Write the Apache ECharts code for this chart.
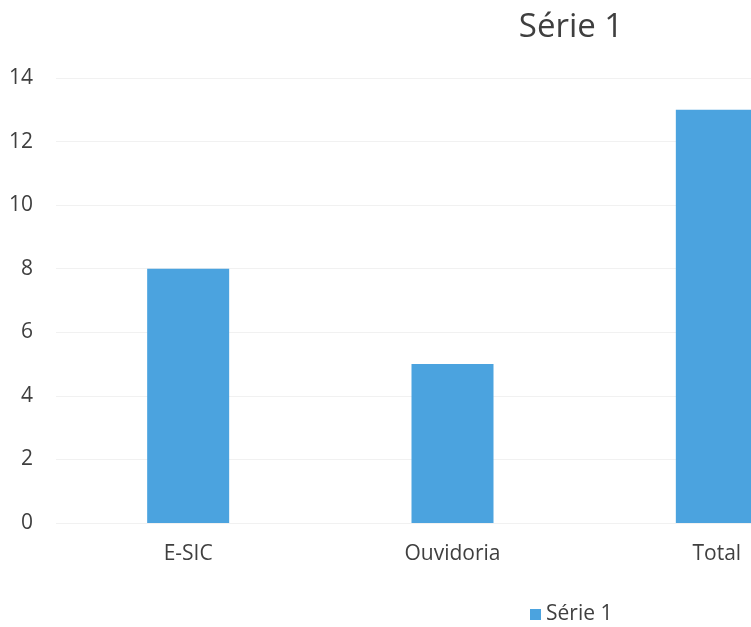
<!DOCTYPE html>
<html>
<head>
<meta charset="utf-8">
<script src="https://cdn.jsdelivr.net/npm/echarts@6/dist/echarts.min.js"></script>
<style>html,body{margin:0;padding:0;background:#fff}#c{width:751px;height:627px}</style>
</head>
<body>
<div id="c"></div>
<script>
var categories = ['E-SIC', 'Ouvidoria', 'Total'];
var seriesName = 'Série 1';
var values = [8, 5, 13];
var yTicks = [0, 2, 4, 6, 8, 10, 12, 14];

var chart = echarts.init(document.getElementById('c'));
chart.setOption({
  animation: false,
  backgroundColor: '#ffffff',
  textStyle: { fontFamily: 'Open Sans' },
  title: {
    text: seriesName,
    left: 566, top: 6, textAlign: 'center',
    textStyle: { fontSize: 33, fontWeight: 'normal', color: '#3f3f3f', fontFamily: 'Open Sans' }
  },
  legend: {
    data: [seriesName],
    left: 525, top: 599,
    icon: 'rect', itemWidth: 11, itemHeight: 11, itemGap: 4,
    textStyle: { fontSize: 21, color: '#3f3f3f', fontFamily: 'Open Sans' }
  },
  grid: { left: 56, right: -98, top: 78, bottom: 104, containLabel: false, outerBoundsMode: 'none' },
  xAxis: {
    type: 'category',
    data: categories,
    axisLine: { show: false },
    axisTick: { show: false },
    axisLabel: { fontSize: 21, color: '#3f3f3f', margin: 21, fontFamily: 'Open Sans' }
  },
  yAxis: {
    type: 'value',
    min: yTicks[0], max: yTicks[yTicks.length - 1], interval: yTicks[1] - yTicks[0],
    axisLine: { show: false },
    axisTick: { show: false },
    axisLabel: { fontSize: 21, color: '#3f3f3f', margin: 23, fontFamily: 'Open Sans' },
    splitLine: { lineStyle: { color: '#f1f1f1', width: 1 } }
  },
  series: [{
    name: seriesName,
    type: 'bar',
    data: values,
    barWidth: 82,
    itemStyle: { color: '#4ba3df' }
  }]
});
</script>
</body>
</html>
